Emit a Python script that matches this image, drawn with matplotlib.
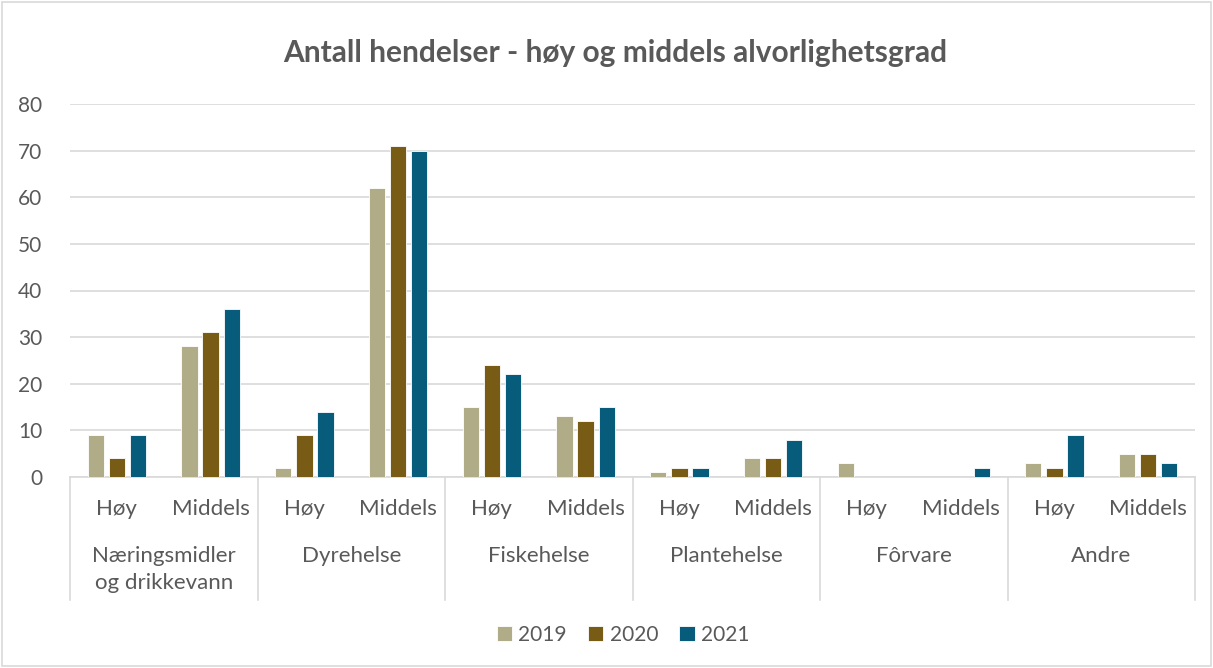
import matplotlib.pyplot as plt
import matplotlib.transforms as mtransforms
from matplotlib.patches import Rectangle
import numpy as np

plt.rcParams['font.family'] = ['Lato', 'DejaVu Sans']

groups = ['Næringsmidler\nog drikkevann', 'Dyrehelse', 'Fiskehelse',
          'Plantehelse', 'Fôrvare', 'Andre']
levels = ['Høy', 'Middels']
years = ['2019', '2020', '2021']
# values per (group, level) in order
v2019 = [9, 28, 2, 62, 15, 13, 1, 4, 3, 0, 3, 5]
v2020 = [4, 31, 9, 71, 24, 12, 2, 4, 0, 0, 2, 5]
v2021 = [9, 36, 14, 70, 22, 15, 2, 8, 0, 2, 9, 3]
colors = ['#B0AC88', '#785B14', '#085C7B']

grey = '#595959'
line_c = '#D9D9D9'

fig = plt.figure(figsize=(12.13, 6.68), dpi=100)
ax = fig.add_axes([70 / 1213, 1 - 477 / 668, 1125 / 1213, 373 / 668])

x = np.arange(len(v2019)) + 0.5
w = 0.175
step = 0.225
for i, (vals, c, lab) in enumerate(zip([v2019, v2020, v2021], colors, years)):
    ax.bar(x + (i - 1) * step, vals, width=w, color=c, label=lab,
           edgecolor='white', linewidth=0.6, zorder=3)

ax.set_xlim(0, len(v2019))
ax.set_ylim(0, 80)
ax.set_yticks(range(0, 81, 10))
ax.set_xticks([])
ax.grid(axis='y', color=line_c, linewidth=1.2, zorder=0)
for s in ['top', 'right', 'left']:
    ax.spines[s].set_visible(False)
ax.spines['bottom'].set_color(line_c)
ax.spines['bottom'].set_linewidth(1.2)
ax.tick_params(axis='y', length=0, labelsize=15, labelcolor=grey, pad=20)

# multi-level category axis
trans = mtransforms.blended_transform_factory(ax.transData, ax.transAxes)
px = 1 / 373  # one pixel in axes fraction (vertical)
for k in range(len(groups) + 1):
    ax.plot([2 * k, 2 * k], [0, -123 * px], color=line_c, lw=1.2,
            transform=trans, clip_on=False)
for j, xi in enumerate(x):
    ax.text(xi, -32 * px, levels[j % 2], transform=trans, ha='center',
            va='center', fontsize=16, color=grey)
for k, g in enumerate(groups):
    ax.text(2 * k + 1, -69 * px, g, transform=trans, ha='center', va='top',
            fontsize=16, color=grey, linespacing=1.45)

fig.text(615 / 1213, 1 - 53 / 668, 'Antall hendelser - høy og middels alvorlighetsgrad',
         ha='center', va='center', fontsize=21.5, fontweight='bold', color=grey)

fig.legend(loc='center', bbox_to_anchor=(623 / 1213, 1 - 635 / 668), ncol=3,
           frameon=False, fontsize=15, labelcolor=grey, handlelength=0.75,
           handleheight=0.75, handletextpad=0.3, columnspacing=1.0)

fig.patches.append(Rectangle((2 / 1213, 2 / 668), 1 - 4 / 1213, 1 - 4 / 668,
                             transform=fig.transFigure, fill=False,
                             edgecolor=line_c, linewidth=1.2))

fig.savefig('out.png', dpi=100)
